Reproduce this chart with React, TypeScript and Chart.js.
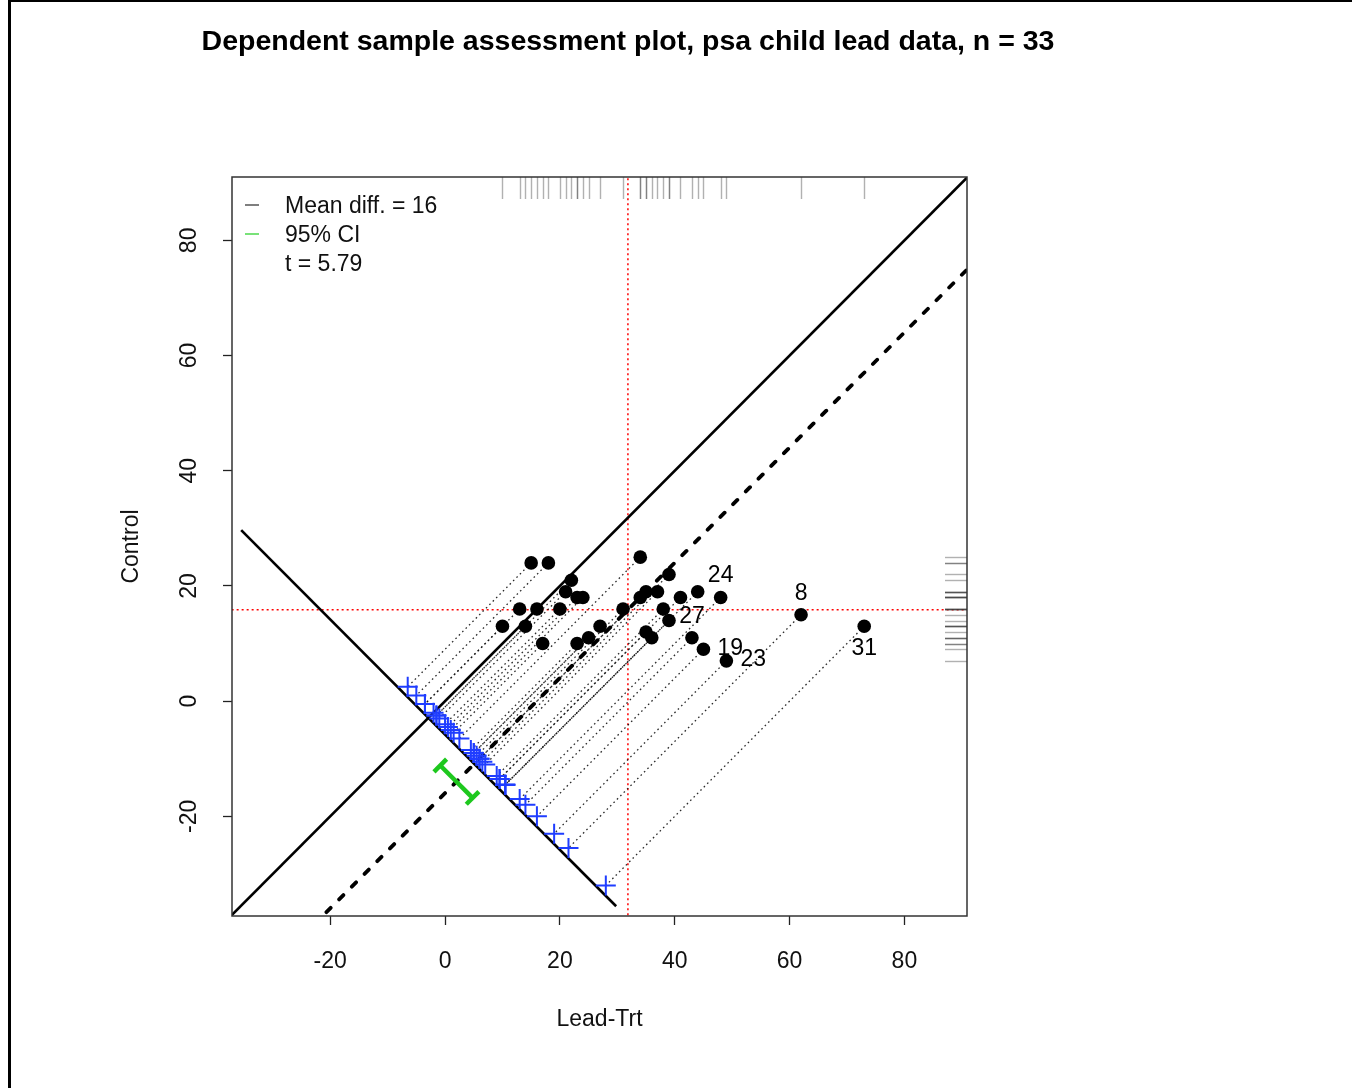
import React, { useEffect, useRef } from "react";
import { Chart, registerables } from "chart.js";

Chart.register(...registerables);

// ---------------- data ----------------
const leadTrt = [38, 23, 41, 18, 37, 36, 23, 62, 31, 34, 24, 14, 21, 17, 16, 20, 15, 10, 45, 39, 22, 35, 49, 48, 44, 35, 43, 39, 34, 13, 73, 25, 27];
const control = [16, 18, 18, 24, 19, 11, 10, 15, 16, 18, 18, 13, 19, 10, 16, 16, 24, 13, 9, 14, 21, 19, 7, 18, 19, 12, 11, 22, 25, 16, 13, 11, 13];
const xTickValues = [-20, 0, 20, 40, 60, 80];
const yTickValues = [-20, 0, 20, 40, 60, 80];
const labelledCases = [8, 31, 24, 23, 19, 27];
const labelSides = ["top", "bottom", "top", "right", "right", "top"];
const legendTexts = ["Mean diff. = 16", "95% CI", "t = 5.79"];
const titleText = "Dependent sample assessment plot, psa child lead data, n = 33";
const xTitle = "Lead-Trt";
const yTitle = "Control";
const xLimits = [-37.1, 90.9];
const yLimits = [-37.3, 91.0];
const tCritical = 2.037;
const crossShift = -2; // crosses sit at (d/2 + shift, -d/2 + shift)
const trailSum = -5.8; // x + y along the trailing (anti-diagonal) line
const trailXRange = [-35.5, 29.8];
const ciSum = -12; // x + y where the CI bar is drawn
const ciCapHalf = 1.1;
const lineExtent = [-45, 100];

// ---------------- derived ----------------
const mean = (a: number[]) => a.reduce((s, v) => s + v, 0) / a.length;
const diffs = leadTrt.map((v, i) => v - control[i]);
const meanTrt = mean(leadTrt);
const meanCtrl = mean(control);
const meanDiff = mean(diffs);
const sdDiff = Math.sqrt(diffs.reduce((s, d) => s + (d - meanDiff) ** 2, 0) / (diffs.length - 1));
const seDiff = sdDiff / Math.sqrt(diffs.length);
const ciLo = meanDiff - tCritical * seDiff;
const ciHi = meanDiff + tCritical * seDiff;

const FONT = '"Liberation Sans", Arial, Helvetica, sans-serif';
Chart.defaults.font.family = FONT;

const seg = (pts: { x: number; y: number }[], color: string, width: number, dash: number[], order: number, cap: CanvasLineCap = "butt") => ({
  type: "scatter" as const,
  data: pts,
  showLine: true,
  pointRadius: 0,
  borderColor: color,
  backgroundColor: color,
  borderWidth: width,
  borderDash: dash,
  borderCapStyle: cap,
  order,
});

const crossPos = diffs.map((d) => ({ x: d / 2 + crossShift, y: -d / 2 + crossShift }));
const ciEnd = (D: number) => ({ x: (D + ciSum) / 2, y: (ciSum - D) / 2 });
const e1 = ciEnd(ciLo);
const e2 = ciEnd(ciHi);

const datasets: any[] = [
  {
    type: "scatter",
    data: leadTrt.map((x, i) => ({ x, y: control[i] })),
    pointRadius: 6.8,
    pointBackgroundColor: "#000",
    pointBorderWidth: 0,
    order: 0,
  },
  {
    type: "scatter",
    data: crossPos,
    pointStyle: "cross",
    pointRadius: 10,
    pointBorderColor: "#1f3dff",
    pointBorderWidth: 2,
    order: 1,
  },
  seg([e1, e2], "#1ec81e", 4.5, [], 2),
  seg([{ x: e1.x - ciCapHalf, y: e1.y - ciCapHalf }, { x: e1.x + ciCapHalf, y: e1.y + ciCapHalf }], "#1ec81e", 4.5, [], 2),
  seg([{ x: e2.x - ciCapHalf, y: e2.y - ciCapHalf }, { x: e2.x + ciCapHalf, y: e2.y + ciCapHalf }], "#1ec81e", 4.5, [], 2),
  seg(lineExtent.map((v) => ({ x: v, y: v - meanDiff })), "#000", 3.8, [6, 12], 3, "round"),
  seg(lineExtent.map((v) => ({ x: v, y: v })), "#000", 2.6, [], 4),
  seg(trailXRange.map((v) => ({ x: v, y: trailSum - v })), "#000", 2.6, [], 4),
  seg(lineExtent.map((v) => ({ x: meanTrt, y: v })), "rgb(255,0,0)", 1.5, [2, 3], 6),
  seg(lineExtent.map((v) => ({ x: v, y: meanCtrl })), "rgb(255,0,0)", 1.5, [2, 3], 6),
  ...leadTrt.map((x, i) => seg([{ x, y: control[i] }, crossPos[i]], "rgba(20,20,20,0.9)", 1.3, [1.6, 3.2], 5)),
];

const decor = {
  id: "decor",
  afterDatasetsDraw(chart: any) {
    const { ctx, chartArea: a, scales } = chart;
    const x = scales.x;
    const y = scales.y;
    ctx.save();
    // rugs
    ctx.strokeStyle = "rgba(60,60,60,0.4)";
    ctx.lineWidth = 1.4;
    leadTrt.forEach((v) => {
      const px = Math.round(x.getPixelForValue(v)) + 0.5;
      ctx.beginPath();
      ctx.moveTo(px, a.top);
      ctx.lineTo(px, a.top + 22);
      ctx.stroke();
    });
    control.forEach((v) => {
      const py = Math.round(y.getPixelForValue(v)) + 0.5;
      ctx.beginPath();
      ctx.moveTo(a.right - 22, py);
      ctx.lineTo(a.right, py);
      ctx.stroke();
    });
    // point labels
    ctx.font = `23px ${FONT}`;
    ctx.fillStyle = "#000";
    labelledCases.forEach((c, k) => {
      const px = x.getPixelForValue(leadTrt[c - 1]);
      const py = y.getPixelForValue(control[c - 1]);
      const side = labelSides[k];
      ctx.textBaseline = "middle";
      if (side === "top") {
        ctx.textAlign = "center";
        ctx.fillText(String(c), px, py - 21.5);
      } else if (side === "bottom") {
        ctx.textAlign = "center";
        ctx.fillText(String(c), px, py + 22);
      } else {
        ctx.textAlign = "left";
        ctx.fillText(String(c), px + 14, py - 1);
      }
    });
    // frame
    ctx.strokeStyle = "#333";
    ctx.lineWidth = 1.5;
    ctx.strokeRect(a.left, a.top, a.right - a.left, a.bottom - a.top);
    // legend
    const legColors = ["#555", "#4cd94c", null];
    legendTexts.forEach((t, i) => {
      const ly = a.top + 29 + i * 29;
      const col = legColors[i];
      if (col) {
        ctx.strokeStyle = col;
        ctx.lineWidth = 1.5;
        ctx.beginPath();
        ctx.moveTo(a.left + 13, ly - 1);
        ctx.lineTo(a.left + 27, ly - 1);
        ctx.stroke();
      }
      ctx.fillStyle = "#111";
      ctx.textAlign = "left";
      ctx.textBaseline = "middle";
      ctx.font = `23px ${FONT}`;
      ctx.fillText(t, a.left + 53, ly + 1);
    });
    // title
    ctx.font = `bold 28.5px ${FONT}`;
    ctx.fillStyle = "#000";
    ctx.textAlign = "center";
    ctx.textBaseline = "middle";
    ctx.fillText(titleText, 628, 42);
    ctx.restore();
  },
};

export default function App() {
  const ref = useRef<HTMLCanvasElement>(null);
  useEffect(() => {
    const canvas = ref.current!;
    const chart = new Chart(canvas, {
      type: "scatter",
      data: { datasets },
      options: {
        responsive: false,
        animation: false,
        devicePixelRatio: 1,
        events: [],
        layout: { padding: { left: 112, top: 177, right: 385, bottom: 48 } },
        plugins: {
          legend: { display: false },
          tooltip: { enabled: false },
          title: { display: false },
        },
        scales: {
          x: {
            type: "linear",
            position: "bottom",
            min: xLimits[0],
            max: xLimits[1],
            afterBuildTicks: (s: any) => {
              s.ticks = xTickValues.map((v) => ({ value: v }));
            },
            afterFit: (s: any) => {
              s.height = 124;
            },
            grid: { drawOnChartArea: false, drawTicks: true, tickLength: 9, tickColor: "#222", tickWidth: 1.3 },
            border: { display: false },
            ticks: {
              padding: 23,
              color: "#111",
              font: { size: 23 },
              minRotation: 0,
              maxRotation: 0,
              autoSkip: false,
              callback: (v: any) => String(v),
            },
            title: { display: true, text: xTitle, color: "#111", font: { size: 23 }, padding: { top: 0, bottom: 7 } },
          },
          y: {
            type: "linear",
            position: "left",
            min: yLimits[0],
            max: yLimits[1],
            afterBuildTicks: (s: any) => {
              s.ticks = yTickValues.map((v) => ({ value: v }));
            },
            afterFit: (s: any) => {
              s.width = 120;
            },
            grid: { drawOnChartArea: false, drawTicks: true, tickLength: 9, tickColor: "#222", tickWidth: 1.3 },
            border: { display: false },
            ticks: {
              padding: 17,
              color: "#111",
              font: { size: 23 },
              minRotation: 90,
              maxRotation: 90,
              crossAlign: "center",
              autoSkip: false,
              callback: (v: any) => String(v),
            },
            title: { display: true, text: yTitle, color: "#111", font: { size: 23 }, padding: { top: 6, bottom: 0 } },
          },
        },
      } as any,
      plugins: [decor],
    });
    return () => chart.destroy();
  }, []);
  return (
    <div style={{ position: "fixed", left: 0, top: 0, width: 1352, height: 1088, background: "#fff", overflow: "hidden" }}>
      <canvas ref={ref} width={1352} height={1088} style={{ position: "absolute", left: 0, top: 0, width: 1352, height: 1088 }} />
      <div style={{ position: "absolute", left: 8, top: 0, width: 2.5, height: 1088, background: "#000" }} />
      <div style={{ position: "absolute", left: 8, top: 0, right: 0, height: 2, background: "#000" }} />
    </div>
  );
}
